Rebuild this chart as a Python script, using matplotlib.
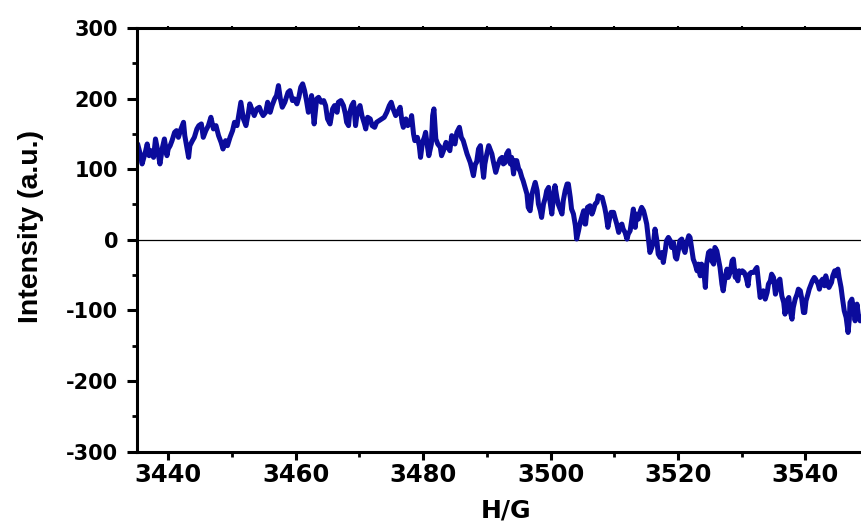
import matplotlib
matplotlib.use("Agg")
import matplotlib.pyplot as plt
from matplotlib.ticker import MultipleLocator
from matplotlib import font_manager

plt.rcParams['font.family'] = 'DejaVu Sans'
plt.rcParams['font.weight'] = 'bold'
plt.rcParams['axes.unicode_minus'] = False

# condensed face for the rotated axis title, if it is around
names = {f.name for f in font_manager.fontManager.ttflist}
narrow = 'Liberation Sans Narrow' in names
ylab_font = 'Liberation Sans Narrow' if narrow else 'Liberation Sans'
ylab_size = 25 if narrow else 20.5

# magnetic field sweep (G) and signal (a.u.)
field_g = [
    3435.2, 3435.6, 3435.9, 3436.4, 3436.7, 3437.0, 3437.3, 3437.7, 3438.0, 3438.4,
    3438.7, 3439.1, 3439.4, 3439.8, 3440.0, 3440.3, 3440.6, 3441.0, 3441.3, 3441.6,
    3442.0, 3442.4, 3442.6, 3443.2, 3443.4, 3443.8, 3444.1, 3444.5, 3444.8, 3445.2,
    3445.5, 3445.9, 3446.3, 3446.7, 3447.1, 3447.5, 3447.9, 3448.3, 3448.6, 3449.0,
    3449.3, 3449.7, 3450.1, 3450.4, 3450.8, 3451.1, 3451.4, 3451.8, 3452.2, 3452.6,
    3452.8, 3453.2, 3453.5, 3453.9, 3454.3, 3454.6, 3454.9, 3455.3, 3455.6, 3456.0,
    3456.3, 3456.7, 3457.0, 3457.3, 3457.6, 3457.9, 3458.3,
    3458.8, 3459.1, 3459.5, 3459.8, 3460.2, 3460.5, 3460.8, 3461.1, 3461.4, 3461.7,
    3462.0, 3462.3, 3462.5, 3462.9, 3463.3, 3463.6, 3464.0, 3464.4, 3464.7, 3465.0,
    3465.4, 3465.8, 3466.1, 3466.5, 3466.7, 3467.1, 3467.5, 3467.8, 3468.0, 3468.3,
    3468.5, 3468.8, 3469.1, 3469.4, 3469.7, 3470.1, 3470.4, 3470.8, 3471.0, 3471.3,
    3471.7, 3472.0, 3472.4, 3472.7, 3473.1, 3473.5, 3473.9, 3474.3, 3474.7, 3475.0,
    3475.3, 3475.7, 3476.0, 3476.4, 3476.7, 3476.9, 3477.3, 3477.6, 3478.0, 3478.2,
    3478.5, 3478.7, 3479.1, 3479.4, 3479.6, 3479.9, 3480.2, 3480.4, 3480.7, 3480.9,
    3481.3, 3481.5, 3481.7,
    3482.0, 3482.3, 3482.7, 3482.9, 3483.2, 3483.6, 3483.9, 3484.2, 3484.5, 3484.8,
    3485.0, 3485.3, 3485.7, 3486.0, 3486.3, 3486.6, 3486.9, 3487.1, 3487.4, 3487.6,
    3487.9, 3488.2, 3488.4, 3488.7, 3489.0, 3489.2, 3489.5, 3489.7, 3490.0, 3490.3,
    3490.5, 3490.8, 3491.0, 3491.4, 3491.7, 3492.1, 3492.4, 3492.6, 3492.9, 3493.1,
    3493.4, 3493.7, 3493.9, 3494.2, 3494.4, 3494.7, 3495.0, 3495.2, 3495.5, 3495.7,
    3496.0, 3496.3, 3496.5, 3496.8, 3497.1, 3497.3, 3497.6, 3497.9, 3498.1, 3498.4,
    3498.6, 3498.9, 3499.2, 3499.4, 3499.7, 3499.9, 3500.2, 3500.5, 3500.7, 3501.0,
    3501.2, 3501.5, 3501.8, 3502.0, 3502.3, 3502.6, 3502.8, 3503.1, 3503.3, 3503.6,
    3503.9, 3504.1, 3504.4, 3504.6, 3504.9, 3505.2, 3505.4,
    3505.5, 3505.8, 3506.2, 3506.5, 3506.7, 3507.0, 3507.3, 3507.5, 3507.8, 3508.1,
    3508.5, 3508.7, 3509.0, 3509.2, 3509.5, 3509.9, 3510.1, 3510.4, 3510.7, 3510.9,
    3511.2, 3511.4, 3511.7, 3512.0, 3512.2, 3512.5, 3512.8, 3513.0, 3513.3, 3513.5,
    3513.8, 3514.1, 3514.3, 3514.6, 3514.8, 3515.1, 3515.4, 3515.6, 3515.9, 3516.2,
    3516.4, 3516.7, 3516.9, 3517.2, 3517.5, 3517.7, 3518.0, 3518.2, 3518.5, 3518.8,
    3519.0, 3519.3, 3519.6, 3519.8, 3520.1, 3520.3, 3520.6, 3520.9, 3521.1, 3521.4,
    3521.7, 3521.9, 3522.2, 3522.4, 3522.7, 3523.0, 3523.2, 3523.5, 3523.7, 3524.0,
    3524.3, 3524.5, 3524.8, 3525.1, 3525.3, 3525.6, 3525.8, 3526.1, 3526.4, 3526.6,
    3526.9, 3527.1, 3527.4, 3527.7, 3527.9, 3528.2, 3528.5, 3528.7, 3529.0,
    3529.1, 3529.4, 3529.6, 3529.9, 3530.1, 3530.4, 3530.7, 3531.0, 3531.2, 3531.5,
    3531.9, 3532.2, 3532.4, 3532.6, 3532.9, 3533.2, 3533.4, 3533.7, 3534.0, 3534.2,
    3534.5, 3534.7, 3535.0, 3535.3, 3535.5, 3535.8, 3536.0, 3536.3, 3536.6, 3536.8,
    3537.1, 3537.4, 3537.6, 3537.9, 3538.1, 3538.4, 3538.7, 3538.9, 3539.2, 3539.4,
    3539.7, 3539.9, 3540.1, 3540.4, 3540.6, 3540.9, 3541.1, 3541.4, 3541.6, 3542.0,
    3542.2, 3542.5, 3542.7, 3543.0, 3543.2, 3543.5, 3543.7, 3544.1, 3544.3, 3544.6,
    3544.8, 3545.1, 3545.3, 3545.6, 3545.8, 3546.1, 3546.4, 3546.7, 3546.9, 3547.0,
    3547.3, 3547.6, 3547.8, 3548.1, 3548.3, 3548.6,
]

intensity = [
    135.7, 121.6, 107.4, 123.8, 135.7, 119.1, 126.2, 116.7, 142.8, 123.8,
    107.4, 131.0, 142.8, 119.1, 128.6, 133.3, 140.4, 152.2, 154.6, 145.1,
    157.0, 166.4, 147.5, 116.7, 133.3, 140.4, 145.1, 157.0, 161.7, 164.1,
    145.1, 154.6, 161.7, 173.5, 157.0, 161.7, 147.5, 138.0, 128.6, 140.4,
    133.3, 145.1, 154.6, 166.4, 161.7, 178.3, 194.8, 171.2, 161.7, 180.6,
    192.5, 183.0, 175.9, 185.4, 187.7, 180.6, 175.9, 180.6, 194.8, 180.6,
    190.1, 199.6, 204.3, 218.4, 199.6, 187.7, 194.8,
    208.9, 211.3, 197.2, 199.6, 192.5, 201.8, 216.1, 220.9, 211.3, 197.2,
    180.6, 190.1, 204.3, 164.1, 199.6, 201.8, 194.8, 197.2, 190.1, 171.2,
    164.1, 185.4, 190.1, 180.6, 194.8, 197.2, 190.1, 178.3, 166.4, 161.7,
    180.6, 190.1, 194.8, 161.7, 183.0, 190.1, 175.9, 164.1, 157.0, 173.5,
    171.2, 161.7, 159.3, 166.4, 168.8, 171.2, 173.5, 180.6, 190.1, 194.8,
    185.4, 175.9, 180.6, 187.7, 166.4, 159.3, 171.2, 161.7, 166.4, 175.9,
    149.9, 140.4, 145.1, 133.3, 116.7, 138.0, 145.1, 152.2, 131.0, 119.1,
    135.7, 175.9, 185.4,
    142.8, 135.7, 131.0, 119.1, 126.2, 138.0, 131.0, 126.2, 147.5, 140.4,
    135.7, 152.2, 159.3, 145.1, 140.4, 131.0, 121.6, 116.7, 109.6, 102.6,
    90.8, 107.4, 109.6, 128.6, 133.3, 112.1, 88.4, 107.4, 121.6, 133.3,
    128.6, 121.6, 112.1, 95.5, 105.0, 114.5, 116.7, 107.4, 109.6, 121.6,
    126.2, 107.4, 116.7, 93.2, 112.1, 112.1, 100.3, 97.9, 88.4, 83.7,
    74.2, 64.8, 45.8, 41.1, 64.8, 71.9, 81.3, 69.5, 50.6, 41.1,
    31.6, 50.6, 60.0, 69.5, 74.2, 55.3, 36.5, 64.8, 76.6, 60.0,
    50.6, 43.5, 36.5, 55.3, 69.5, 79.0, 79.0, 60.0, 43.5, 36.5,
    19.9, 1.0, 12.8, 22.3, 31.6, 41.1, 22.3,
    22.2, 45.9, 48.2, 36.4, 41.1, 50.6, 53.0, 62.4, 60.1, 60.1,
    45.9, 36.4, 17.5, 27.0, 38.8, 38.8, 31.7, 22.2, 10.4, 19.9,
    22.2, 15.1, 10.4, 0.9, 8.0, 12.8, 31.7, 43.5, 17.5, 36.4,
    29.3, 41.1, 45.9, 41.1, 34.1, 22.2, -1.4, -18.0, -10.9, -1.4,
    15.1, -1.4, -20.3, -25.1, -18.0, -32.2, -15.6, -1.4, 3.3, -1.4,
    -10.9, -3.8, -25.1, -27.4, -13.2, -1.4, 1.0, -13.2, -18.0, -3.8,
    5.7, 3.3, -15.6, -27.4, -34.5, -44.0, -34.5, -51.1, -34.5, -39.2,
    -67.6, -34.5, -18.0, -15.6, -29.8, -34.5, -10.9, -15.6, -29.8, -39.2,
    -62.9, -72.3, -53.4, -41.6, -53.4, -46.3, -29.8, -27.4, -53.4,
    -44.0, -58.2, -44.0, -46.3, -44.0, -46.3, -53.4, -65.2, -48.7, -46.3,
    -46.3, -41.6, -39.2, -55.8, -81.8, -74.7, -72.3, -84.1, -74.7, -62.9,
    -58.2, -48.7, -53.4, -77.1, -70.0, -58.2, -55.8, -79.4, -88.9, -105.4,
    -86.5, -81.8, -100.7, -112.5, -96.0, -84.1, -77.1, -70.0, -72.3, -81.8,
    -103.1, -103.1, -86.5, -77.1, -70.0, -62.9, -58.2, -53.4, -55.8, -62.9,
    -70.0, -58.2, -55.8, -65.2, -51.1, -62.9, -67.6, -60.5, -51.1, -44.0,
    -51.1, -41.6, -53.4, -67.6, -81.8, -100.7, -110.2, -131.4, -112.5, -88.9,
    -84.1, -100.7, -114.9, -91.2, -105.4, -114.9,
]

x_range = (3435.1, 3549.2)
y_range = (-300, 300)

fig = plt.figure(figsize=(8.61, 5.24), dpi=100)
# axes runs a little past the right edge of the canvas
ax = fig.add_axes([137 / 861, 72.5 / 524, 727 / 861, 423.5 / 524])

ax.axhline(0, color='black', lw=0.9, zorder=1)
ax.plot(field_g, intensity, color='#0b0b9c', lw=3.6,
        solid_joinstyle='round', solid_capstyle='round', zorder=2)

ax.set_xlim(*x_range)
ax.set_ylim(*y_range)

ax.xaxis.set_major_locator(MultipleLocator(20))
ax.xaxis.set_minor_locator(MultipleLocator(10))
ax.yaxis.set_major_locator(MultipleLocator(100))
ax.yaxis.set_minor_locator(MultipleLocator(50))

ax.tick_params(axis='x', which='major', direction='out', length=6, width=2.2,
               labelsize=17.5, pad=2.5)
ax.tick_params(axis='y', which='major', direction='out', length=7, width=2.2,
               labelsize=15, pad=6.5)
ax.tick_params(which='minor', direction='out', length=3.6, width=2.0)

for side in ('left', 'bottom', 'top'):
    ax.spines[side].set_linewidth(2.2)
ax.spines['right'].set_visible(False)

# small marks along the top frame
ax_top = ax.twiny()
ax_top.set_xlim(*x_range)
ax_top.xaxis.set_major_locator(MultipleLocator(10))
ax_top.tick_params(axis='x', direction='inout', length=2.5, width=1.5, labeltop=False)
for s in ax_top.spines.values():
    s.set_visible(False)

ax.set_xlabel('H/G', fontsize=18, fontweight='bold')
ax.xaxis.set_label_coords(0.5076, -0.112)
ax.set_ylabel('Intensity (a.u.)', fontsize=ylab_size, fontweight='bold', family=ylab_font)
ax.yaxis.set_label_coords(-0.128, 0.532)

fig.savefig('out.png', dpi=100)
